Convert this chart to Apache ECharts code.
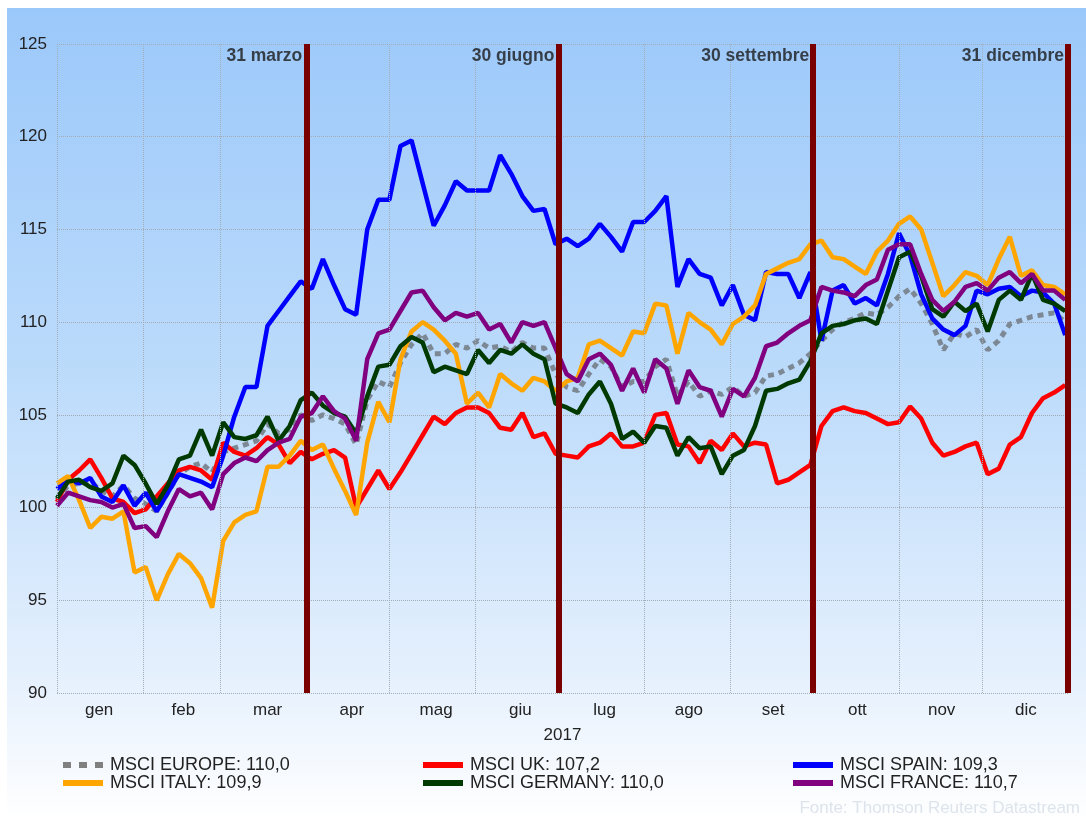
<!DOCTYPE html>
<html>
<head>
<meta charset="utf-8">
<script src="https://cdn.jsdelivr.net/npm/echarts@6/dist/echarts.min.js"></script>
<style>
html,body{margin:0;padding:0;background:#fff;}
#chart{width:1086px;height:821px;}
</style>
</head>
<body>
<div id="chart"></div>
<script>
// ---- data (one value every 4 days of 2017, starting 1 January) ----
const stepDays = 4;
const months = ['gen','feb','mar','apr','mag','giu','lug','ago','set','ott','nov','dic'];
const monthStartDays = [0,31,59,90,120,151,181,212,243,273,304,334,365];
const quarterDays = [90,181,273,365];
const quarterLabels = ['31 marzo','30 giugno','30 settembre','31 dicembre'];
const yearLabel = '2017';
const seriesNames = ['MSCI EUROPE','MSCI UK','MSCI SPAIN','MSCI ITALY','MSCI GERMANY','MSCI FRANCE'];
const legendValues = [110.0, 107.2, 109.3, 109.9, 110.0, 110.7];

const europe = [100.4,101.2,101.3,101.4,100.9,100.6,101.2,100.5,100.2,99.8,100.8,101.8,102.2,102.4,101.9,103.0,103.2,103.4,103.6,104.5,104.0,104.2,105.0,
 104.7,105.0,104.8,104.5,103.4,105.8,106.8,106.5,107.8,108.8,109.4,108.3,108.3,108.8,108.6,109.0,108.6,108.7,108.4,108.9,108.6,108.6,107.2,
 106.5,106.3,107.2,108.0,107.6,106.5,106.8,106.8,107.6,108.0,106.0,106.8,106.0,106.3,106.1,106.5,106.0,106.2,107.1,107.2,107.5,107.8,108.3,
 109.0,109.6,110.0,110.2,110.5,110.4,110.8,111.4,111.8,111.0,109.9,108.5,109.4,109.2,109.6,108.5,109.0,109.9,110.1,110.3,110.4,110.5,110.0];
const uk = [100.3,101.5,102.0,102.6,101.6,100.5,100.3,99.7,99.9,100.6,101.3,102.0,102.2,102.0,101.5,103.5,103.0,102.8,103.2,103.8,103.4,102.4,103.0,
 102.6,102.9,103.1,102.7,100.0,101.0,102.0,101.0,101.9,102.9,103.9,104.9,104.5,105.1,105.4,105.4,105.1,104.3,104.2,105.1,103.8,104.0,102.9,
 102.8,102.7,103.3,103.5,104.0,103.3,103.3,103.5,105.0,105.1,103.4,103.3,102.4,103.6,103.1,104.0,103.3,103.5,103.4,101.3,101.5,101.9,102.3,
 104.4,105.2,105.4,105.2,105.1,104.8,104.5,104.6,105.45,104.8,103.5,102.8,103.0,103.3,103.5,101.8,102.1,103.4,103.8,105.1,105.9,106.2,106.6];
const spain = [101.0,101.5,101.3,101.6,100.6,100.3,101.2,100.1,100.8,99.8,100.8,101.8,101.6,101.4,101.1,102.8,104.9,106.5,106.5,109.8,110.6,111.4,112.2,
 111.8,113.4,112.0,110.7,110.4,115.0,116.6,116.6,119.5,119.8,117.5,115.2,116.3,117.6,117.1,117.1,117.1,119.0,118.0,116.8,116.0,116.1,114.2,
 114.5,114.1,114.5,115.3,114.6,113.8,115.4,115.4,116.0,116.8,111.9,113.4,112.6,112.4,110.9,112.0,110.4,110.1,112.7,112.6,112.6,111.3,112.7,
 109.0,111.7,112.0,111.0,111.3,110.9,112.6,114.8,113.6,111.5,110.2,109.6,109.3,109.8,111.7,111.5,111.8,111.9,111.4,111.7,111.6,111.0,109.3];
const italy = [101.3,101.7,100.4,98.9,99.5,99.4,99.8,96.5,96.8,95.0,96.4,97.5,97.0,96.2,94.6,98.2,99.2,99.6,99.8,102.2,102.2,102.8,103.6,
 103.1,103.4,102.1,100.9,99.6,103.5,105.7,104.6,108.0,109.5,110.0,109.6,109.0,108.3,105.6,106.2,105.4,107.2,106.7,106.3,107.0,106.8,106.3,
 106.8,107.0,108.8,109.0,108.6,108.2,109.5,109.4,111.0,110.9,108.3,110.5,110.0,109.6,108.8,109.9,110.3,110.9,112.6,112.9,113.2,113.4,114.2,
 114.4,113.5,113.4,113.0,112.6,113.8,114.4,115.3,115.7,115.0,113.2,111.4,112.0,112.7,112.5,112.0,113.4,114.6,112.5,112.8,112.0,111.9,111.5];
const germany = [100.5,101.4,101.5,101.1,100.9,101.3,102.8,102.3,101.3,100.2,101.2,102.6,102.8,104.2,102.8,104.6,103.8,103.7,103.9,104.9,103.6,104.4,105.8,
 106.2,105.5,105.1,104.9,104.0,106.0,107.6,107.7,108.7,109.2,108.9,107.3,107.6,107.4,107.2,108.5,107.8,108.5,108.3,108.8,108.3,108.0,105.6,
 105.4,105.1,106.1,106.8,105.6,103.7,104.1,103.5,104.4,104.3,102.8,103.8,103.2,103.3,101.8,102.8,103.1,104.4,106.3,106.4,106.7,106.9,107.9,
 109.4,109.8,109.9,110.1,110.2,109.9,111.7,113.5,113.8,112.5,110.7,110.3,111.1,110.6,111.0,109.5,111.2,111.7,111.2,112.6,111.2,111.0,110.6];
const france = [100.1,100.8,100.6,100.4,100.3,100.0,100.2,98.9,99.0,98.4,99.8,101.0,100.6,100.8,99.9,101.8,102.4,102.7,102.5,103.1,103.5,103.7,104.9,
 105.1,106.0,105.2,104.8,103.6,108.0,109.4,109.6,110.6,111.6,111.7,110.8,110.1,110.5,110.3,110.5,109.6,109.9,108.9,110.0,109.8,110.0,108.6,
 107.2,106.8,108.0,108.3,107.7,106.3,107.5,106.2,108.0,107.5,105.6,107.4,106.5,106.3,104.9,106.4,106.0,107.0,108.7,108.9,109.4,109.8,110.1,
 111.9,111.7,111.6,111.4,112.0,112.3,113.9,114.2,114.2,112.6,111.2,110.6,111.1,111.9,112.1,111.7,112.4,112.7,112.1,112.6,111.7,111.7,111.2];

const seriesValues = [europe, uk, spain, italy, germany, france];
const seriesColors = ['#7d8895','#ff0000','#0000ff','#ffa500','#003a00','#800080'];

// ---- build ----
const FONT = '"Liberation Sans", Arial, sans-serif';
const TXT = '#222';
const fmt = v => v.toFixed(1).replace('.', ',');
const fullNames = seriesNames.map((n, i) => n + ': ' + fmt(legendValues[i]));

const lineSeries = seriesValues.map((vals, k) => ({
  name: fullNames[k],
  type: 'line',
  xAxisIndex: 0, yAxisIndex: 0,
  symbol: 'none',
  z: 3 + k * 0.1,
  color: seriesColors[k],
  lineStyle: k === 0
    ? { color: seriesColors[k], width: 5, type: [6, 5], cap: 'butt' }
    : { color: seriesColors[k], width: 4.5 },
  data: vals.map((v, i) => [i * stepDays, v])
}));

const DOTS_ICON = 'path://M0,0h8v6h-8z M16,0h8v6h-8z M32,0h8v6h-8z';
const legendItem = k => ({
  name: fullNames[k],
  icon: k === 0 ? DOTS_ICON : 'rect',
  itemStyle: { color: k === 0 ? '#808080' : seriesColors[k] }
});

const chart = echarts.init(document.getElementById('chart'), null, { renderer: 'canvas' });

const legendCommon = {
  orient: 'vertical',
  top: 751,
  padding: 5,
  itemWidth: 40,
  itemHeight: 6,
  itemGap: 0,
  selectedMode: false,
  textStyle: { fontSize: 18, color: TXT, fontFamily: FONT, lineHeight: 18, padding: [0, 0, 0, 2] }
};

chart.setOption({
  animation: false,
  textStyle: { fontFamily: FONT },
  graphic: [
    {
      type: 'rect', z: -100, silent: true,
      shape: { x: 7, y: 8, width: 1079, height: 813 },
      style: {
        fill: new echarts.graphic.LinearGradient(0, 0, 0, 1, [
          { offset: 0, color: '#9bc8fa' },
          { offset: 0.45, color: '#bcdbfb' },
          { offset: 0.82, color: '#e5f0fd' },
          { offset: 1, color: '#ffffff' }
        ])
      }
    },
    {
      type: 'text', right: 6, top: 800, silent: true,
      style: { text: 'Fonte: Thomson Reuters Datastream', fill: '#dde4ec', font: '17px ' + FONT }
    }
  ],
  grid: { left: 57, right: 18, top: 44, bottom: 128, containLabel: false },
  xAxis: [
    { type: 'value', min: 0, max: 365, show: false },
    {
      type: 'category', data: months, position: 'bottom', boundaryGap: true,
      axisLine: { show: false }, axisTick: { show: false }, splitLine: { show: false },
      axisLabel: { fontSize: 17, color: TXT, margin: 9, fontFamily: FONT },
      name: yearLabel, nameLocation: 'middle', nameGap: 34,
      nameTextStyle: { fontSize: 17, color: TXT, fontFamily: FONT }
    }
  ],
  yAxis: {
    type: 'value', min: 90, max: 125, interval: 5,
    axisLine: { show: false }, axisTick: { show: false },
    axisLabel: { fontSize: 17, color: TXT, margin: 10, fontFamily: FONT },
    splitLine: { show: true, lineStyle: { color: '#a3adb8', type: 'dotted', width: 1 } }
  },
  legend: [
    Object.assign({}, legendCommon, { left: 58, data: [legendItem(0), legendItem(3)] }),
    Object.assign({}, legendCommon, { left: 418, data: [legendItem(1), legendItem(4)] }),
    Object.assign({}, legendCommon, { left: 788, data: [legendItem(2), legendItem(5)] })
  ],
  series: [
    {
      name: 'monthGrid', type: 'line', data: [], z: 1, silent: true,
      markLine: {
        silent: true, symbol: ['none', 'none'], animation: false,
        label: { show: false },
        lineStyle: { color: '#a3adb8', type: 'dotted', width: 1 },
        data: monthStartDays.map(d => ({ xAxis: d }))
      }
    },
    ...lineSeries,
    {
      name: 'quarters', type: 'line', data: [], z: 10, silent: true,
      markLine: {
        silent: true, symbol: ['none', 'none'], animation: false,
        label: { show: false },
        emphasis: { disabled: true },
        lineStyle: { color: '#7a0000', type: 'solid', width: 6 },
        data: quarterDays.map(d => ({ xAxis: d }))
      }
    },
    {
      name: 'quarterLabels', type: 'scatter', z: 11, silent: true,
      symbolSize: 0,
      data: quarterDays.map(d => [d, 125]),
      label: {
        show: true, position: 'left', distance: 4, offset: [0, 12],
        formatter: p => quarterLabels[p.dataIndex],
        fontSize: 17.5, fontWeight: 'bold', color: '#1a1a1a', fontFamily: FONT
      }
    }
  ]
});
</script>
</body>
</html>
